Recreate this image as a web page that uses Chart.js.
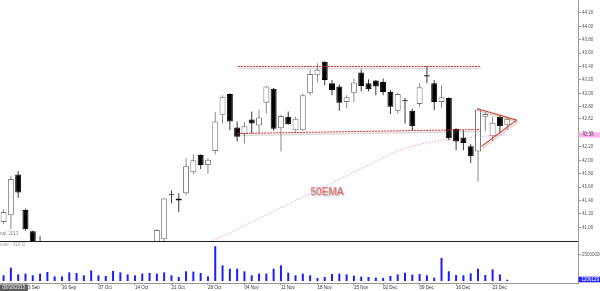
<!DOCTYPE html>
<html>
<head>
<meta charset="utf-8">
<script src="https://cdn.jsdelivr.net/npm/chart.js@4.4.1/dist/chart.umd.min.js"></script>
<style>
  html, body { margin: 0; padding: 0; background: #fff; }
  #wrap { position: relative; width: 600px; height: 291px; overflow: hidden; }
  #price { position: absolute; left: 0; top: 0; }
  #vol { position: absolute; left: 0; top: 241px; }
</style>
</head>
<body>
<div id="wrap">
  <canvas id="price" width="600" height="241"></canvas>
  <canvas id="vol" width="600" height="50"></canvas>
</div>
<script>
// Daily candles, 18 Sep .. 26 Dec (one entry per trading day)
const CANDLE_OPEN = [41.08, 41.18, 41.79, 41.26, 40.94, 40.55, 40.45, 40.30, 40.20, 40.35,
  40.15, 40.00, 40.20, 40.05, 39.90, 40.00, 40.30, 40.50, 40.45, 40.55,
  40.60, 40.65, 40.82, 41.495, 41.43, 41.51, 41.82, 42.08, 41.93, 42.14,
  42.68, 42.99, 42.49, 42.39, 42.61, 42.52, 42.86, 43.07, 42.48, 42.65,
  42.45, 42.45, 43.00, 43.27, 43.47, 43.15, 43.10, 42.87, 43.01, 43.31,
  43.15, 43.19, 43.17, 43.02, 42.74, 42.895, 42.74, 42.84, 43.27, 43.15,
  42.87, 42.93, 42.47, 42.34, 42.21, 42.13, 42.65, 42.36, 42.65, 42.53];
const CANDLE_HIGH = [41.27, 41.77, 41.84, 41.28, 40.95, 40.87, 40.60, 40.45, 40.40, 40.50,
  40.30, 40.25, 40.40, 40.20, 40.10, 40.35, 40.55, 40.65, 40.60, 40.70,
  40.75, 40.97, 41.44, 41.55, 41.51, 42.03, 42.09, 42.09, 42.03, 42.72,
  42.97, 43.00, 42.58, 42.57, 42.73, 42.76, 43.11, 43.08, 42.68, 42.73,
  42.65, 43.00, 43.35, 43.45, 43.48, 43.20, 43.13, 42.97, 43.22, 43.36,
  43.21, 43.20, 43.22, 43.05, 43.01, 42.93, 42.77, 43.15, 43.41, 43.20,
  43.12, 42.94, 42.48, 42.45, 42.24, 42.78, 42.73, 42.65, 42.68, 42.65];
const CANDLE_LOW = [41.05, 40.97, 41.44, 40.95, 40.50, 40.30, 40.20, 40.10, 40.00, 40.10,
  39.90, 39.85, 39.95, 39.80, 39.70, 39.90, 40.20, 40.35, 40.30, 40.40,
  40.45, 40.55, 40.78, 41.36, 41.23, 41.48, 41.79, 41.87, 41.80, 42.09,
  42.55, 42.45, 42.28, 42.25, 42.40, 42.40, 42.70, 42.44, 42.13, 42.53,
  42.43, 42.44, 42.97, 43.16, 43.12, 42.97, 42.74, 42.78, 42.87, 43.03,
  43.03, 42.97, 42.97, 42.69, 42.70, 42.55, 42.45, 42.80, 43.15, 42.75,
  42.79, 42.30, 42.15, 42.15, 41.96, 41.68, 42.43, 42.29, 42.40, 42.45];
const CANDLE_CLOSE = [41.23, 41.72, 41.52, 40.97, 40.60, 40.45, 40.30, 40.20, 40.35, 40.15,
  40.00, 40.20, 40.05, 39.90, 40.00, 40.30, 40.50, 40.45, 40.55, 40.60,
  40.65, 40.96, 41.43, 41.48, 41.40, 41.91, 42.00, 41.93, 42.01, 42.58,
  42.95, 42.58, 42.35, 42.51, 42.55, 42.64, 43.10, 42.47, 42.66, 42.54,
  42.62, 42.97, 43.29, 43.35, 43.20, 43.05, 42.86, 42.94, 43.16, 43.11,
  43.06, 43.10, 43.02, 42.80, 42.99, 42.88, 42.51, 43.09, 43.25, 42.87,
  42.94, 42.33, 42.28, 42.26, 42.06, 42.76, 42.69, 42.56, 42.51, 42.62];
// volume in millions of shares
const VOLUME_M = [5.4, 12.7, 6.3, 7.0, 5.4, 7.0, 8.6, 4.4, 4.4, 8.2,
  7.6, 5.4, 10.1, 5.4, 4.8, 9.5, 8.2, 6.3, 5.4, 7.0,
  7.6, 7.0, 8.2, 5.4, 3.8, 9.2, 8.9, 7.6, 4.4, 33.0,
  14.9, 11.7, 11.7, 9.2, 5.4, 7.0, 7.0, 11.7, 14.9, 7.9,
  5.4, 7.0, 5.4, 2.9, 3.8, 6.6, 7.0, 6.3, 5.1, 4.1,
  3.8, 3.2, 2.9, 4.8, 6.3, 7.9, 6.0, 6.6, 5.4, 3.2,
  21.9, 9.2, 5.7, 5.4, 7.3, 11.7, 5.7, 11.1, 6.3, 1.206129];
// 50 day EMA (below the visible range before 28 Oct)
const EMA50 = [null, null, null, null, null, null, null, null, null, null,
  null, null, null, null, null, null, null, null, null, null,
  null, null, null, null, null, null, null, null, 40.77, 40.82,
  40.87, 40.92, 40.97, 41.03, 41.08, 41.13, 41.18, 41.24, 41.29, 41.34,
  41.40, 41.45, 41.50, 41.56, 41.61, 41.66, 41.72, 41.77, 41.82, 41.88,
  41.93, 41.98, 42.04, 42.09, 42.14, 42.18, 42.21, 42.24, 42.26, 42.28,
  42.30, 42.31, 42.32, 42.33, 42.34, 42.35, 42.36, 42.37, 42.375, 42.38];

const DATE_TICK_IDX = [3, 8, 13, 18, 23, 28, 33, 38, 43, 48, 52, 57, 62, 67];
const DATE_TICK_LABELS = ['23 Sep', '30 Sep', '07 Oct', '14 Oct', '21 Oct', '28 Oct', '04 Nov',
  '11 Nov', '18 Nov', '25 Nov', '02 Dec', '09 Dec', '16 Dec', '23 Dec'];
const PRICE_TICKS = [41.00, 41.20, 41.40, 41.60, 41.80, 42.00, 42.20, 42.40, 42.62,
  42.80, 43.00, 43.20, 43.40, 43.60, 43.80, 44.00, 44.20];
const VOLUME_TICKS = [25000000];

// drawn trend lines, [bar index, price]
const RESISTANCE = [[32.1, 43.40], [65.3, 43.40]];
const SUPPORT = [[32.0, 42.40], [65.3, 42.46]];
const TRIANGLE_TOP = [[64.9, 42.77], [70.3, 42.60]];
const TRIANGLE_BOTTOM = [[65.5, 42.21], [70.3, 42.60]];
const EMA_TEXT = '50EMA';
const EMA_TEXT_AT = [44.3, 41.52];
const CURSOR_DATE = '09/18/2013';

(function () {
  'use strict';

  const FONT = '"Liberation Sans", Arial, sans-serif';
  Chart.defaults.font.family = FONT;

  const X_MIN = -0.49;
  const X_MAX = 78.7;
  const idx = CANDLE_OPEN.map((_, i) => i);
  const isUp = idx.map(i => CANDLE_CLOSE[i] >= CANDLE_OPEN[i]);
  const tickFont = { size: 4.5, family: FONT };

  function rightAxisFit(s) {
    s.width = 22;
    s.paddingTop = 0;
    s.paddingBottom = 0;
  }

  function line(ctx, pts, color, width, dash) {
    ctx.beginPath();
    ctx.strokeStyle = color;
    ctx.lineWidth = width;
    ctx.setLineDash(dash || []);
    ctx.moveTo(pts[0][0], pts[0][1]);
    ctx.lineTo(pts[1][0], pts[1][1]);
    ctx.stroke();
  }

  const priceOverlay = {
    id: 'priceOverlay',
    afterDatasetsDraw(chart) {
      const { ctx } = chart;
      const x = chart.scales.x;
      const y = chart.scales.y;
      const toPx = p => [x.getPixelForValue(p[0]), y.getPixelForValue(p[1])];
      const shift = (pts, dx, dy) => pts.map(p => [p[0] + dx, p[1] + dy]);

      ctx.save();
      [RESISTANCE, SUPPORT, TRIANGLE_TOP, TRIANGLE_BOTTOM].forEach(seg => {
        line(ctx, shift(seg.map(toPx), 1, 2), 'rgba(110,110,110,0.25)', 1.6);
      });
      line(ctx, RESISTANCE.map(toPx), '#e02626', 1, [2, 1]);
      line(ctx, SUPPORT.map(toPx), '#e02626', 1, [2, 1]);
      line(ctx, TRIANGLE_TOP.map(toPx), '#d9442e', 1.2);
      line(ctx, TRIANGLE_BOTTOM.map(toPx), '#d9442e', 1.2);

      const t = toPx(EMA_TEXT_AT);
      ctx.font = '10px ' + FONT;
      ctx.textAlign = 'center';
      ctx.textBaseline = 'middle';
      ctx.shadowColor = 'rgba(0,0,0,0.45)';
      ctx.shadowOffsetX = 1;
      ctx.shadowOffsetY = 1;
      ctx.shadowBlur = 1.5;
      ctx.fillStyle = '#f06a6a';
      ctx.fillText(EMA_TEXT, t[0], t[1]);
      ctx.restore();

      ctx.save();
      ctx.font = '4.5px ' + FONT;
      ctx.fillStyle = '#888';
      ctx.textBaseline = 'middle';
      ctx.fillText('nal, 2013', 0, 233.5);
      ctx.restore();
    },
    afterDraw(chart) {
      const { ctx } = chart;
      const y = chart.scales.y;
      const last = EMA50[EMA50.length - 1];
      const py = y.getPixelForValue(last);
      ctx.save();
      ctx.fillStyle = '#ffb4ef';
      ctx.fillRect(578.5, py - 2.7, 21.5, 5.4);
      ctx.font = '4.5px ' + FONT;
      ctx.fillStyle = '#555';
      ctx.textBaseline = 'middle';
      ctx.fillText(last.toFixed(2), 582.5, py + 0.3);
      ctx.restore();
    }
  };

  new Chart(document.getElementById('price'), {
    type: 'bar',
    data: {
      datasets: [
        {
          type: 'line',
          data: idx.map(i => ({ x: i, y: EMA50[i] })),
          borderColor: '#f79be0',
          borderWidth: 1,
          borderDash: [1.5, 1.5],
          pointRadius: 0,
          spanGaps: false,
          clip: 0,
          order: 3
        },
        {
          data: idx.map(i => ({ x: i, y: [CANDLE_LOW[i], CANDLE_HIGH[i]] })),
          backgroundColor: idx.map(i => isUp[i] ? '#8a8a8a' : '#3a3a3a'),
          grouped: false,
          categoryPercentage: 1,
          barPercentage: 1 / 7.3,
          clip: 0,
          order: 2
        },
        {
          data: idx.map(i => ({ x: i, y: [CANDLE_OPEN[i], CANDLE_CLOSE[i]] })),
          backgroundColor: idx.map(i => isUp[i] ? '#ffffff' : '#000000'),
          borderColor: idx.map(i => isUp[i] ? '#7a7a7a' : '#000000'),
          borderWidth: 1,
          borderSkipped: false,
          grouped: false,
          categoryPercentage: 1,
          barPercentage: 6 / 7.3,
          clip: 0,
          order: 1
        }
      ]
    },
    options: {
      responsive: false,
      animation: false,
      devicePixelRatio: 1,
      events: [],
      layout: { padding: 0, autoPadding: false },
      plugins: { legend: { display: false }, tooltip: { enabled: false } },
      scales: {
        x: { type: 'linear', min: X_MIN, max: X_MAX, offset: false, display: false },
        y: {
          position: 'right',
          min: 40.7955,
          max: 44.393,
          afterFit: rightAxisFit,
          afterBuildTicks: s => { s.ticks = PRICE_TICKS.map(v => ({ value: v })); },
          ticks: {
            callback: v => v.toFixed(2),
            font: tickFont,
            color: '#555',
            padding: 1,
            autoSkip: false
          },
          grid: { drawOnChartArea: false, tickLength: 3, color: '#999' },
          border: { color: '#999' }
        }
      }
    },
    plugins: [priceOverlay]
  });

  const volumeOverlay = {
    id: 'volumeOverlay',
    afterDraw(chart) {
      const { ctx } = chart;
      const y = chart.scales.y;
      ctx.save();
      ctx.fillStyle = '#222';
      ctx.fillRect(0, 0, 578, 1);

      ctx.font = '4.5px ' + FONT;
      ctx.textBaseline = 'middle';
      ctx.fillStyle = '#999';
      ctx.fillText('Volume - XLF D', -ctx.measureText('Vol').width, 3.5);

      const lastVol = Math.round(VOLUME_M[VOLUME_M.length - 1] * 1e6);
      const py = Math.min(y.getPixelForValue(lastVol), 38.5);
      ctx.fillStyle = '#2424ff';
      ctx.fillRect(578.5, py - 2.8, 21.5, 5.6);
      ctx.fillStyle = '#fff';
      ctx.fillText(String(lastVol), 581.5, py + 0.3);

      ctx.fillStyle = '#5e5e5e';
      ctx.fillRect(0, 43.5, 28, 6.5);
      ctx.fillStyle = '#eee';
      ctx.fillText(CURSOR_DATE, 2.5, 47);
      ctx.restore();
    }
  };

  new Chart(document.getElementById('vol'), {
    type: 'bar',
    data: {
      datasets: [{
        data: idx.map(i => ({ x: i, y: VOLUME_M[i] * 1e6 })),
        backgroundColor: '#1d1dff',
        grouped: false,
        categoryPercentage: 1,
        barPercentage: 2 / 7.3,
        clip: 0
      }]
    },
    options: {
      responsive: false,
      animation: false,
      devicePixelRatio: 1,
      events: [],
      layout: { padding: 0, autoPadding: false },
      plugins: { legend: { display: false }, tooltip: { enabled: false } },
      scales: {
        x: {
          type: 'linear',
          min: X_MIN,
          max: X_MAX,
          offset: false,
          afterFit: s => { s.height = 8; s.paddingLeft = 0; s.paddingRight = 0; },
          afterBuildTicks: s => { s.ticks = DATE_TICK_IDX.map(v => ({ value: v })); },
          ticks: {
            align: 'start',
            autoSkip: false,
            maxRotation: 0,
            padding: 0,
            font: tickFont,
            color: '#333',
            callback: (v, i) => DATE_TICK_LABELS[i]
          },
          grid: { drawOnChartArea: false, offset: false, tickLength: 2, color: '#999' },
          border: { color: '#999' }
        },
        y: {
          position: 'right',
          min: -1.9e6,
          max: 38e6,
          afterFit: rightAxisFit,
          afterBuildTicks: s => { s.ticks = VOLUME_TICKS.map(v => ({ value: v })); },
          ticks: {
            callback: v => String(v),
            font: tickFont,
            color: '#555',
            padding: 1
          },
          grid: { drawOnChartArea: false, tickLength: 3, color: '#999' },
          border: { color: '#999' }
        }
      }
    },
    plugins: [volumeOverlay]
  });
})();
</script>
</body>
</html>
